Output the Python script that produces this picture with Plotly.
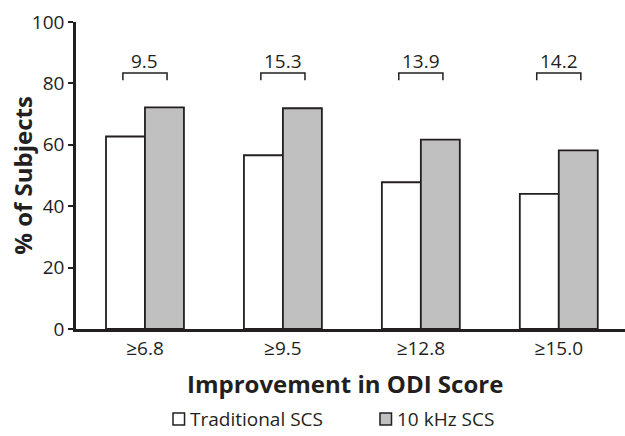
import plotly.graph_objects as go

categories = ["≥6.8", "≥9.5", "≥12.8", "≥15.0"]
traditional = [62.7, 56.6, 47.8, 44.0]
khz10 = [72.2, 71.9, 61.7, 58.2]
diff_labels = ["9.5", "15.3", "13.9", "14.2"]
series_names = ["Traditional SCS", "10 kHz SCS"]
series_colors = ["white", "#c0c0c0"]
y_ticks = [0, 20, 40, 60, 80, 100]
x_title = "Improvement in ODI Score"
y_title = "% of Subjects"

TXT = "#231f20"
FONT = "Open Sans"

fig = go.Figure()
for name, vals, col in zip(series_names, [traditional, khz10], series_colors):
    fig.add_trace(go.Bar(x=categories, y=vals, name=name, showlegend=False,
                         marker=dict(color=col, line=dict(color=TXT, width=1.8))))

for i, lab in enumerate(diff_labels):
    x0, x1 = i - 0.16, i + 0.16
    fig.add_shape(type="path", xref="x", yref="y",
                  path=f"M {x0} 81.0 L {x0} 83.4 L {x1} 83.4 L {x1} 81.0",
                  line=dict(color=TXT, width=1.5))
    fig.add_annotation(x=i, y=87.4, xref="x", yref="y", text=lab, showarrow=False,
                       font=dict(family=FONT, size=19, color=TXT))

# custom legend (paper coordinates)
leg_x = [0.1767, 0.5537]
for name, col, lx in zip(series_names, series_colors, leg_x):
    fig.add_shape(type="rect", xref="paper", yref="paper",
                  x0=lx, x1=lx + 0.021, y0=-0.3127, y1=-0.2736,
                  fillcolor=col, line=dict(color=TXT, width=1.5))
    fig.add_annotation(x=lx + 0.027, y=-0.293, xref="paper", yref="paper",
                       xanchor="left", yanchor="middle", text=name, showarrow=False,
                       font=dict(family=FONT, size=19, color=TXT))

# axis titles
fig.add_annotation(x=0.49, y=-0.179, xref="paper", yref="paper", xanchor="center",
                   yanchor="middle", text=f"<b>{x_title}</b>", showarrow=False,
                   font=dict(family=FONT, size=24, color=TXT))
fig.add_annotation(x=-0.098, y=0.5, xref="paper", yref="paper", xanchor="center",
                   yanchor="middle", text=f"<b>{y_title}</b>", showarrow=False, textangle=-90,
                   font=dict(family=FONT, size=24, color=TXT))

fig.update_layout(
    width=625, height=436,
    margin=dict(l=76, r=0, t=22, b=107),
    plot_bgcolor="white", paper_bgcolor="white",
    barmode="group", bargap=0.435, bargroupgap=0,
    font=dict(family=FONT, size=19, color=TXT),
    showlegend=False,
    xaxis=dict(range=[-0.5, 3.48], showline=True, linecolor=TXT, linewidth=2.5,
               ticks="", showgrid=False, zeroline=False, automargin=False,
               tickfont=dict(family=FONT, size=19, color=TXT)),
    yaxis=dict(range=[0, 100], tickvals=y_ticks, showline=True, linecolor=TXT, linewidth=2.5,
               ticks="outside", ticklen=5, tickwidth=2, tickcolor=TXT, showgrid=False,
               zeroline=False, automargin=False, tickfont=dict(family=FONT, size=19, color=TXT)),
)

fig.write_html("out.html", config={"displayModeBar": False},
               post_script="document.body.style.margin='0';")
